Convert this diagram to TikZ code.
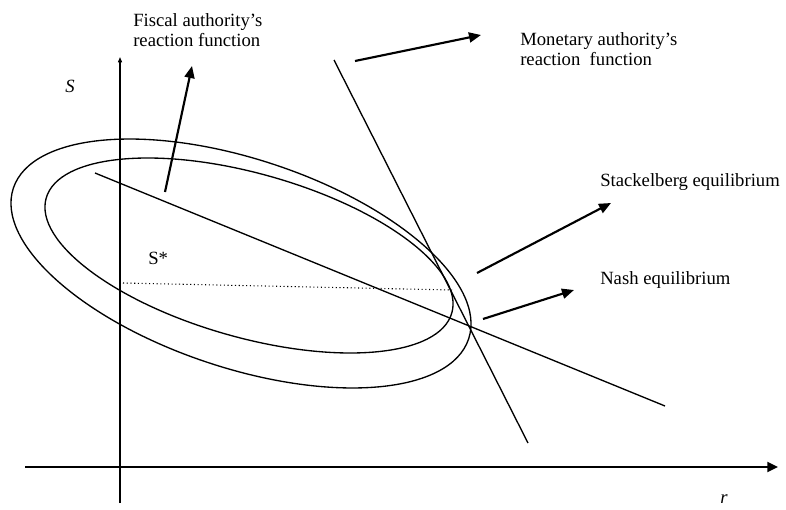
\documentclass[tikz,border=0pt]{standalone}
\usepackage{fontspec}
\setmainfont{Liberation Serif}
\usetikzlibrary{arrows.meta,positioning}

\begin{document}
\begin{tikzpicture}[x=0.75pt,y=-0.75pt,font=\fontsize{14}{15.5}\selectfont,
    lbl/.style={anchor=north west,inner sep=0pt,align=left},
    axis/.style={line width=1.5pt},
    pointer/.style={line width=1.6pt,-{Triangle[length=9pt,width=7.5pt]}},
    curve/.style={line width=1pt}]
      \useasboundingbox (0,0) rectangle (786,510);
      \coordinate (xL) at (25,467);   \coordinate (xR) at (778,467);
      \coordinate (yB) at (120,503);  \coordinate (yT) at (120,57);
      \coordinate (fL) at (95,173);   \coordinate (fR) at (665,406);
      \coordinate (mT) at (334,60);   \coordinate (mB) at (528,443);
      \coordinate (s0) at (123,283);  \coordinate (s1) at (452,290);
      \draw[axis,-{Triangle[length=8pt,width=7.5pt]}] (xL) -- (xR);
      \draw[axis,-{Triangle[length=4pt,width=3pt]}] (yB) -- (yT);
      \node[lbl] (S) at (65,80) {\itshape S};
      \node[lbl] (r) at (720,494) {\itshape r};
      \node[lbl] (Sstar) at (148,252) {S*};
      \draw[curve,rotate around={-18.3:(241,263.5)}] (241,263.5) ellipse [x radius=239.8,y radius=104.4];
      \draw[curve,rotate around={-15.8:(249,255.5)}] (249,255.5) ellipse [x radius=210.8,y radius=81.9];
      \draw[curve] (fL) -- (fR);
      \draw[curve] (mT) -- (mB);
      \draw[dotted,line width=0.8pt] (s0) -- (s1);
      \node[lbl] (fiscal) at (133,13) {Fiscal authority's\\reaction function};
      \node[lbl] (monetary) at (520,32) {Monetary authority's\\reaction\ \ function};
      \node[lbl] (stack) at (600,173) {Stackelberg equilibrium};
      \node[lbl] (nash) at (600,271) {Nash equilibrium};
      \coordinate (a1) at (165,192);  \coordinate (b1) at (192,66);
      \coordinate (a2) at (355,61);   \coordinate (b2) at (481,35);
      \coordinate (a3) at (477,273);  \coordinate (b3) at (611,203);
      \coordinate (a4) at (483,319);  \coordinate (b4) at (574,290);
      \draw[pointer] (a1) -- (b1);
      \draw[pointer] (a2) -- (b2);
      \draw[pointer] (a3) -- (b3);
      \draw[pointer] (a4) -- (b4);
\end{tikzpicture}
\end{document}
